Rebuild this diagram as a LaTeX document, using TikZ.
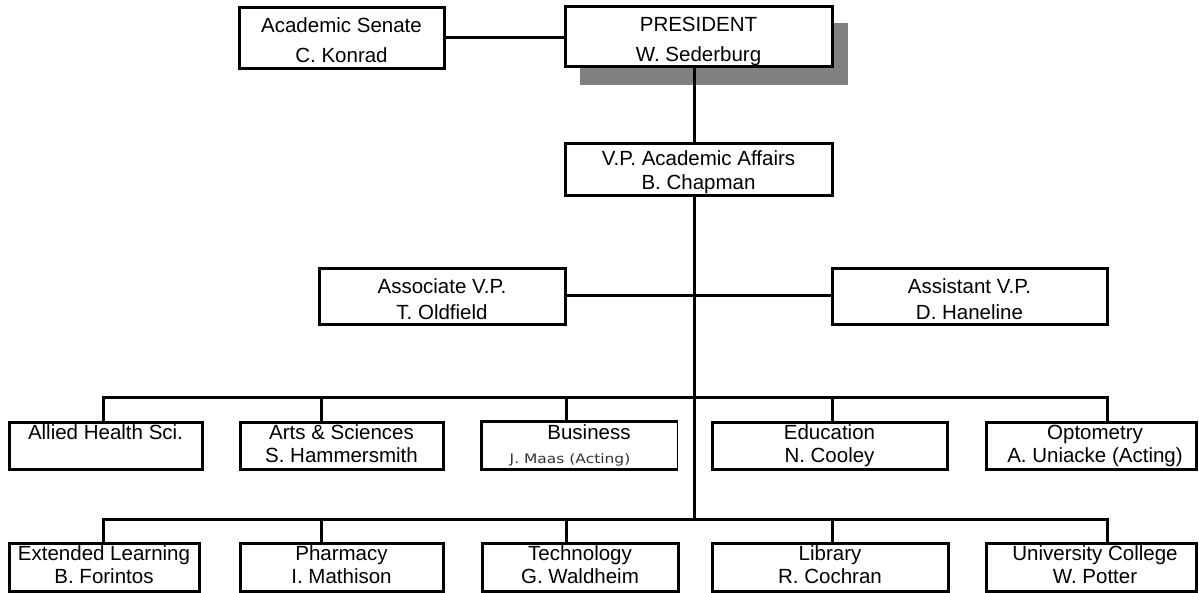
\documentclass[tikz,border=0pt]{standalone}
\usepackage{graphicx}
\usepackage{fontspec}
\setmainfont{Liberation Sans}
\newfontfamily\maasfont{DejaVu Sans}
\usetikzlibrary{fit,calc}
\definecolor{shadowgray}{RGB}{128,128,128}
\newcommand\orgbox[5]{\node[boxst, fit={(#2,#3)(#4,#5)}] (#1) {};}
\begin{document}
\begin{tikzpicture}[x=1pt,y=-1pt,
  boxst/.style={draw, line width=3pt, inner sep=0pt, fill=white},
  link/.style={line width=3pt, line join=miter},
  txt/.style={anchor=base, inner sep=0pt, font=\fontsize{20.5}{23}\selectfont},
  smalltxt/.style={anchor=base, inner sep=0pt, text=black!80, font=\maasfont\fontsize{13}{15}\selectfont}]
\useasboundingbox (0,0) rectangle (1199,593);

% shadow of president
\fill[shadowgray] (580,23) rectangle (848,85);

% boxes
\orgbox{sen}{239}{8}{444}{69}
\orgbox{pres}{565}{7}{832}{67}
\orgbox{vp}{565}{144}{832}{196}
\orgbox{assoc}{319}{269}{565}{325}
\orgbox{assist}{832}{269}{1107}{325}

\orgbox{allied}{9}{422}{202}{469}
\orgbox{arts}{240}{422}{443}{469}
\node[fit={(482,422)(677,469)}, inner sep=0pt, fill=white] (bus) {};
\draw[line width=3pt] (bus.north east) -- (bus.north west) -- (bus.south west) -- (bus.south east);
\draw[line width=0.9pt] ([yshift=2pt]bus.north east) -- ([yshift=-1.5pt]bus.south east);
\orgbox{edu}{712}{422}{947}{469}
\orgbox{opt}{986}{422}{1196}{469}

\orgbox{ext}{9}{543}{199}{591}
\orgbox{pharm}{240}{543}{443}{591}
\orgbox{tech}{482}{543}{678}{591}
\orgbox{lib}{712}{543}{948}{591}
\orgbox{uc}{986}{543}{1196}{591}

% texts
\node[txt] (sen-a) at (sen.center |- 0,33) {Academic Senate};
\node[txt] (sen-b) at (sen.center |- 0,63) {C. Konrad};
\node[txt] (pres-a) at (pres.center |- 0,32) {PRESIDENT};
\node[txt] (pres-b) at (pres.center |- 0,62) {W. Sederburg};
\node[txt] (vp-a) at (vp.center |- 0,166) {V.P. Academic Affairs};
\node[txt] (vp-b) at (vp.center |- 0,190) {B. Chapman};
\node[txt] (assoc-a) at (assoc.center |- 0,294) {Associate V.P.};
\node[txt] (assoc-b) at (assoc.center |- 0,320) {T. Oldfield};
\node[txt] (assist-a) at (assist.center |- 0,294) {Assistant V.P.};
\node[txt] (assist-b) at (assist.center |- 0,320) {D. Haneline};

\node[txt] (allied-a) at (allied.center |- 0,439) {Allied Health Sci.};
\node[txt] (arts-a) at (arts.center |- 0,439) {Arts \& Sciences};
\node[txt] (arts-b) at (arts.center |- 0,462) {S. Hammersmith};
\node[txt] (bus-a) at (589,439) {Business};
\node[smalltxt] (bus-b) at (570,463) {\scalebox{1.19}[1]{J. Maas (Acting)}};
\node[txt] (edu-a) at (edu.center |- 0,439) {Education};
\node[txt] (edu-b) at (edu.center |- 0,462) {N. Cooley};
\node[txt] (opt-a) at (1095,439) {Optometry};
\node[txt] (opt-b) at (1095,462) {A. Uniacke (Acting)};

\node[txt] (ext-a) at (ext.center |- 0,560) {Extended Learning};
\node[txt] (ext-b) at (ext.center |- 0,583) {B. Forintos};
\node[txt] (pharm-a) at (pharm.center |- 0,560) {Pharmacy};
\node[txt] (pharm-b) at (pharm.center |- 0,583) {I. Mathison};
\node[txt] (tech-a) at (tech.center |- 0,560) {Technology};
\node[txt] (tech-b) at (tech.center |- 0,583) {G. Waldheim};
\node[txt] (lib-a) at (lib.center |- 0,560) {Library};
\node[txt] (lib-b) at (lib.center |- 0,583) {R. Cochran};
\node[txt] (uc-a) at (1095,560) {University College};
\node[txt] (uc-b) at (1095,583) {W. Potter};

% bus coordinates
\coordinate (b1L) at (103,397);
\coordinate (b1R) at (1107,397);
\coordinate (b2L) at (103,519);
\coordinate (b2R) at (1107,519);
\coordinate (trunkbot) at (694,519);

% connectors
\draw[link] (sen.east |- 0,38) -- (pres.west |- 0,38);
\draw[link] (pres.south -| 694,0) -- (vp.north -| 694,0);
\draw[link] (vp.south -| 694,0) -- (trunkbot);
\draw[link] (assoc.east |- 0,296) -- (assist.west |- 0,296);

\draw[link] (allied.north -| b1L) -- (b1L) -- (b1R) -- (opt.north -| b1R);
\draw[link] (321,397) -- (arts.north -| 321,0);
\draw[link] (566,397) -- (bus.north -| 566,0);
\draw[link] (832,397) -- (edu.north -| 832,0);

\draw[link] (ext.north -| b2L) -- (b2L) -- (b2R) -- (uc.north -| b2R);
\draw[link] (321,519) -- (pharm.north -| 321,0);
\draw[link] (566,519) -- (tech.north -| 566,0);
\draw[link] (832,519) -- (lib.north -| 832,0);
\end{tikzpicture}
\end{document}
